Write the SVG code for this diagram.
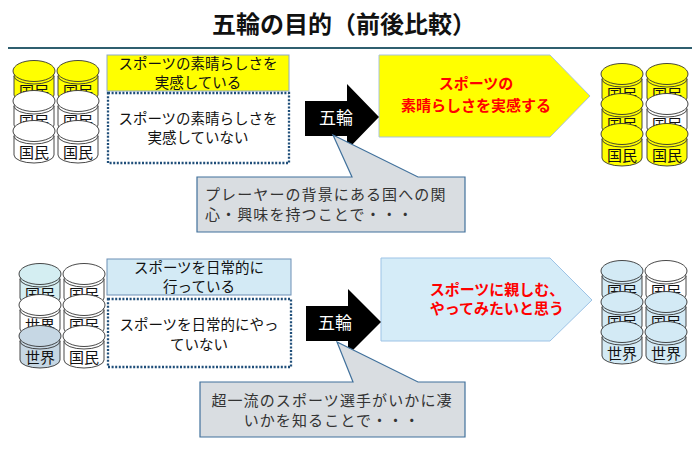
<svg xmlns="http://www.w3.org/2000/svg" width="700" height="449" viewBox="0 0 700 449">
<style>
text{font-family:"Noto Sans CJK JP","Noto Sans",sans-serif;}
.cyl path,.cyl ellipse{stroke:#333;stroke-width:0.9;}
.lbl{font-size:15px;text-anchor:middle;fill:#111;}
.y{fill:#ffff00;} .w{fill:#ffffff;} .b{fill:#d3eaf5;} .t{fill:#d4eef2;} .g{fill:#c6d7e4;}
.box{font-size:14.5px;text-anchor:middle;fill:#111;}
.dot{fill:#fff;stroke:#1f4e79;stroke-width:2.3;stroke-dasharray:2 1.6;}
.red{font-size:15px;font-weight:bold;fill:#ff0000;text-anchor:middle;}
.call{fill:#d9dde1;stroke:#41719c;stroke-width:1.2;}
.ct{font-size:15px;fill:#333;letter-spacing:1.1px;}
.ring{font-size:17px;fill:#fff;text-anchor:middle;}
</style>
<rect width="700" height="449" fill="#fff"/>
<g id="title">
<text x="344" y="33" font-size="24" font-weight="bold" text-anchor="middle" fill="#111">五輪の目的（前後比較）</text>
<line x1="8" y1="48" x2="692" y2="48" stroke="#2f5f6f" stroke-width="2"/>
</g>

<!-- cylinder groups -->
<g id="people-top-left" class="cyl">
<g transform="translate(34,71)"><path class="y" d="M-20,5 L-20,24 A20,8 0 0 0 20,24 L20,5 Z"/><ellipse class="y" cx="0" cy="5" rx="20" ry="8"/><text class="lbl" y="26">国民</text><ellipse class="y" rx="21" ry="10.5"/></g>
<g transform="translate(78,71)"><path class="y" d="M-20,5 L-20,24 A20,8 0 0 0 20,24 L20,5 Z"/><ellipse class="y" cx="0" cy="5" rx="20" ry="8"/><text class="lbl" y="26">国民</text><ellipse class="y" rx="21" ry="10.5"/></g>
<g transform="translate(34,101)"><path class="w" d="M-20,5 L-20,24 A20,8 0 0 0 20,24 L20,5 Z"/><ellipse class="w" cx="0" cy="5" rx="20" ry="8"/><text class="lbl" y="26">国民</text><ellipse class="w" rx="21" ry="10.5"/></g>
<g transform="translate(78,101)"><path class="w" d="M-20,5 L-20,24 A20,8 0 0 0 20,24 L20,5 Z"/><ellipse class="w" cx="0" cy="5" rx="20" ry="8"/><text class="lbl" y="26">国民</text><ellipse class="w" rx="21" ry="10.5"/></g>
<g transform="translate(34,131)"><path class="w" d="M-20,5 L-20,24 A20,8 0 0 0 20,24 L20,5 Z"/><ellipse class="w" cx="0" cy="5" rx="20" ry="8"/><text class="lbl" y="27">国民</text><ellipse class="w" rx="21" ry="10.5"/></g>
<g transform="translate(78,131)"><path class="w" d="M-20,5 L-20,24 A20,8 0 0 0 20,24 L20,5 Z"/><ellipse class="w" cx="0" cy="5" rx="20" ry="8"/><text class="lbl" y="27">国民</text><ellipse class="w" rx="21" ry="10.5"/></g>
</g>

<g id="people-top-right" class="cyl">
<g transform="translate(622,74)"><path class="y" d="M-20,5 L-20,24 A20,8 0 0 0 20,24 L20,5 Z"/><ellipse class="y" cx="0" cy="5" rx="20" ry="8"/><text class="lbl" y="26">国民</text><ellipse class="y" rx="21" ry="10.5"/></g>
<g transform="translate(667,74)"><path class="y" d="M-20,5 L-20,24 A20,8 0 0 0 20,24 L20,5 Z"/><ellipse class="y" cx="0" cy="5" rx="20" ry="8"/><text class="lbl" y="26">国民</text><ellipse class="y" rx="21" ry="10.5"/></g>
<g transform="translate(622,104)"><path class="y" d="M-20,5 L-20,24 A20,8 0 0 0 20,24 L20,5 Z"/><ellipse class="y" cx="0" cy="5" rx="20" ry="8"/><text class="lbl" y="26">国民</text><ellipse class="y" rx="21" ry="10.5"/></g>
<g transform="translate(667,104)"><path class="w" d="M-20,5 L-20,24 A20,8 0 0 0 20,24 L20,5 Z"/><ellipse class="w" cx="0" cy="5" rx="20" ry="8"/><text class="lbl" y="26">国民</text><ellipse class="w" rx="21" ry="10.5"/></g>
<g transform="translate(622,134)"><path class="y" d="M-20,5 L-20,24 A20,8 0 0 0 20,24 L20,5 Z"/><ellipse class="y" cx="0" cy="5" rx="20" ry="8"/><text class="lbl" y="27">国民</text><ellipse class="y" rx="21" ry="10.5"/></g>
<g transform="translate(667,134)"><path class="y" d="M-20,5 L-20,24 A20,8 0 0 0 20,24 L20,5 Z"/><ellipse class="y" cx="0" cy="5" rx="20" ry="8"/><text class="lbl" y="27">国民</text><ellipse class="y" rx="21" ry="10.5"/></g>
</g>

<g id="people-bottom-left" class="cyl">
<g transform="translate(40,274)"><path class="t" d="M-20,5 L-20,24 A20,8 0 0 0 20,24 L20,5 Z"/><ellipse class="t" cx="0" cy="5" rx="20" ry="8"/><text class="lbl" y="26">国民</text><ellipse class="t" rx="21" ry="10.5"/></g>
<g transform="translate(84,274)"><path class="w" d="M-20,5 L-20,24 A20,8 0 0 0 20,24 L20,5 Z"/><ellipse class="w" cx="0" cy="5" rx="20" ry="8"/><text class="lbl" y="26">国民</text><ellipse class="w" rx="21" ry="10.5"/></g>
<g transform="translate(40,305)"><path class="w" d="M-20,5 L-20,24 A20,8 0 0 0 20,24 L20,5 Z"/><ellipse class="w" cx="0" cy="5" rx="20" ry="8"/><text class="lbl" y="26">世界</text><ellipse class="w" rx="21" ry="10.5"/></g>
<g transform="translate(84,305)"><path class="w" d="M-20,5 L-20,24 A20,8 0 0 0 20,24 L20,5 Z"/><ellipse class="w" cx="0" cy="5" rx="20" ry="8"/><text class="lbl" y="26">国民</text><ellipse class="w" rx="21" ry="10.5"/></g>
<g transform="translate(40,336)"><path class="g" d="M-20,5 L-20,24 A20,8 0 0 0 20,24 L20,5 Z"/><ellipse class="g" cx="0" cy="5" rx="20" ry="8"/><text class="lbl" y="27">世界</text><ellipse class="g" rx="21" ry="10.5"/></g>
<g transform="translate(84,336)"><path class="w" d="M-20,5 L-20,24 A20,8 0 0 0 20,24 L20,5 Z"/><ellipse class="w" cx="0" cy="5" rx="20" ry="8"/><text class="lbl" y="27">国民</text><ellipse class="w" rx="21" ry="10.5"/></g>
</g>

<g id="people-bottom-right" class="cyl">
<g transform="translate(622,271)"><path class="b" d="M-20,5 L-20,24 A20,8 0 0 0 20,24 L20,5 Z"/><ellipse class="b" cx="0" cy="5" rx="20" ry="8"/><text class="lbl" y="26">国民</text><ellipse class="b" rx="21" ry="10.5"/></g>
<g transform="translate(666,271)"><path class="w" d="M-20,5 L-20,24 A20,8 0 0 0 20,24 L20,5 Z"/><ellipse class="w" cx="0" cy="5" rx="20" ry="8"/><text class="lbl" y="26">国民</text><ellipse class="w" rx="21" ry="10.5"/></g>
<g transform="translate(622,302)"><path class="b" d="M-20,5 L-20,24 A20,8 0 0 0 20,24 L20,5 Z"/><ellipse class="b" cx="0" cy="5" rx="20" ry="8"/><text class="lbl" y="26">国民</text><ellipse class="b" rx="21" ry="10.5"/></g>
<g transform="translate(666,302)"><path class="b" d="M-20,5 L-20,24 A20,8 0 0 0 20,24 L20,5 Z"/><ellipse class="b" cx="0" cy="5" rx="20" ry="8"/><text class="lbl" y="26">国民</text><ellipse class="b" rx="21" ry="10.5"/></g>
<g transform="translate(622,332)"><path class="b" d="M-20,5 L-20,24 A20,8 0 0 0 20,24 L20,5 Z"/><ellipse class="b" cx="0" cy="5" rx="20" ry="8"/><text class="lbl" y="27">世界</text><ellipse class="b" rx="21" ry="10.5"/></g>
<g transform="translate(666,332)"><path class="b" d="M-20,5 L-20,24 A20,8 0 0 0 20,24 L20,5 Z"/><ellipse class="b" cx="0" cy="5" rx="20" ry="8"/><text class="lbl" y="27">世界</text><ellipse class="b" rx="21" ry="10.5"/></g>
</g>

<!-- state boxes -->
<g id="box-feel">
<rect x="107" y="55" width="182" height="36" fill="#ffff00" stroke="#8ea9c8" stroke-width="1"/>
<text class="box" x="198" y="68.5">スポーツの素晴らしさを</text>
<text class="box" x="198" y="87.5">実感している</text>
</g>
<g id="box-notfeel">
<rect class="dot" x="108" y="93" width="181" height="70"/>
<text class="box" x="198" y="123.5">スポーツの素晴らしさを</text>
<text class="box" x="198" y="142.5">実感していない</text>
</g>
<g id="box-do">
<rect x="107" y="259" width="184" height="36" fill="#d3eaf5" stroke="#6d8fb5" stroke-width="1"/>
<text class="box" x="199" y="272.5">スポーツを日常的に</text>
<text class="box" x="199" y="292">行っている</text>
</g>
<g id="box-notdo">
<rect class="dot" x="108" y="299" width="183" height="68"/>
<text class="box" x="199" y="330">スポーツを日常的にやっ</text>
<text class="box" x="199" y="349.5">ていない</text>
</g>

<!-- result pentagons -->
<g id="result-top">
<path d="M379,55 L550,55 L590,96 L550,137 L379,137 Z" fill="#ffff00" stroke="#a9c3dc" stroke-width="1"/>
<text class="red" x="476" y="88.5">スポーツの</text>
<text class="red" x="476" y="110.5">素晴らしさを実感する</text>
</g>
<g id="result-bottom">
<path d="M381,258 L550,258 L592,300 L550,341 L381,341 Z" fill="#d5ecf8" stroke="#9dc3e6" stroke-width="1"/>
<text class="red" x="497" y="295">スポーツに親しむ、</text>
<text class="red" x="497" y="314">やってみたいと思う</text>
</g>

<!-- connectors: Olympic block arrows -->
<g id="connectors">
<g id="arrow-top">
<path d="M305,101 L347,101 L347,84 L379,117 L347,150 L347,136 L305,136 Z" fill="#000"/>
<text class="ring" x="336" y="124">五輪</text>
</g>
<g id="arrow-bottom">
<path d="M306,306 L348,306 L348,289 L381,322 L348,355 L348,341 L306,341 Z" fill="#000"/>
<text class="ring" x="335" y="329">五輪</text>
</g>
</g>

<!-- callouts -->
<g id="callout-top">
<path class="call" d="M197,177 L352,177 L333,135 L418,177 L465,177 L465,232 L197,232 Z"/>
<text class="ct" x="205" y="200">プレーヤーの背景にある国への関</text>
<text class="ct" x="205" y="220">心・興味を持つことで・・・</text>
</g>
<g id="callout-bottom">
<path class="call" d="M200,382 L353,382 L337,342 L418,382 L465,382 L465,437 L200,437 Z"/>
<text class="ct" x="332" y="406" text-anchor="middle">超一流のスポーツ選手がいかに凄</text>
<text class="ct" x="332" y="426" text-anchor="middle">いかを知ることで・・・</text>
</g>
</svg>
